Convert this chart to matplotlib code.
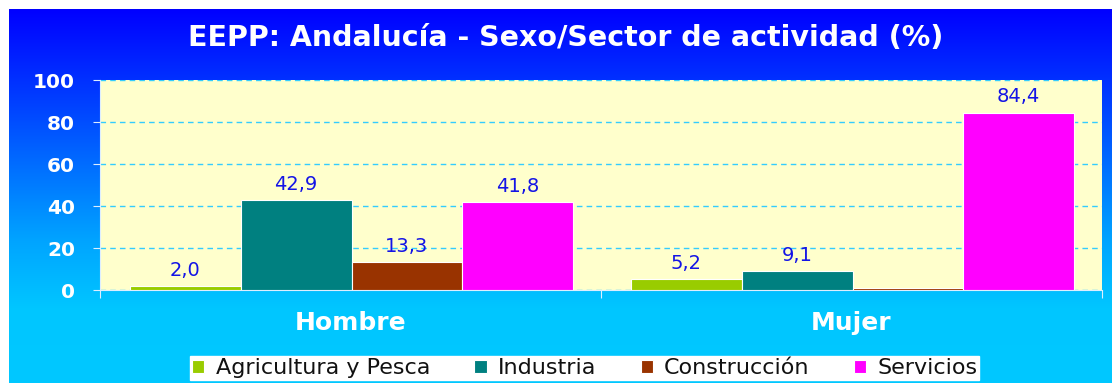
import numpy as np
import matplotlib.pyplot as plt
from matplotlib.colors import LinearSegmentedColormap

# datos de la encuesta (%)
grupos = ['Hombre', 'Mujer']
sectores = ['Agricultura y Pesca', 'Industria', 'Construcción', 'Servicios']
agricultura = [2.0, 5.2]
industria = [42.9, 9.1]
construccion = [13.3, 1.0]
servicios = [41.8, 84.4]
etiquetas = [['2,0', '5,2'], ['42,9', '9,1'], ['13,3', ''], ['41,8', '84,4']]
colores = ['#99CC00', '#008080', '#993300', '#FF00FF']

plt.rcParams['font.family'] = ['DejaVu Sans']

fig = plt.figure(figsize=(11.12, 3.83), dpi=100, facecolor='white')

# fondo degradado azul -> celeste
fondo = fig.add_axes([9 / 1112, 0, 1 - 9 / 1112, 1 - 9 / 383], zorder=-10)
cmap = LinearSegmentedColormap.from_list('fondo', [(0.0, '#0000FF'), (0.25, '#0040FF'),
                                                  (0.62, '#00A4FF'), (0.80, '#00C6FF'),
                                                  (1.0, '#00C8FF')])
grad = np.linspace(0, 1, 256).reshape(-1, 1)
fondo.imshow(grad, aspect='auto', cmap=cmap, extent=[0, 1, 1, 0])
fondo.set_axis_off()

ax = fig.add_axes([100 / 1112, 1 - 290 / 383, 1002 / 1112, 210 / 383])
ax.set_facecolor('#FFFFCC')

x = np.arange(len(grupos))
ancho = 0.221
series = [agricultura, industria, construccion, servicios]
for i, (vals, col, nombre) in enumerate(zip(series, colores, sectores)):
    pos = x + (i - 1.5) * ancho + 0.002
    ax.bar(pos, vals, ancho, color=col, edgecolor='white', linewidth=0.8,
           label=nombre, zorder=3)
    for p, v, t in zip(pos, vals, etiquetas[i]):
        if t:
            ax.text(p, v + 3, t, ha='center', va='bottom', color='#1414E6',
                    fontsize=14, zorder=4)

ax.set_xlim(-0.5, 1.5)
ax.set_ylim(0, 100)
ax.set_yticks(np.arange(0, 101, 20))
ax.set_xticks([-0.5, 0.5, 1.5], minor=False)
ax.set_xticklabels([])
ax.set_xticks(x, minor=True)
ax.set_xticklabels(grupos, minor=True)
ax.tick_params(axis='x', which='minor', length=0, pad=15, labelsize=18,
               labelcolor='white')
ax.tick_params(axis='x', which='major', length=6, color='#DDEEFF')
ax.tick_params(axis='y', length=5, color='#DDEEFF', labelcolor='white', labelsize=14.5, pad=13)
for lab in ax.get_yticklabels() + ax.get_xticklabels(minor=True):
    lab.set_fontweight('bold')

ax.grid(axis='y', color='#33CCFF', linestyle=(0, (4, 3)), linewidth=1, zorder=1)
for s in ['top', 'right']:
    ax.spines[s].set_visible(False)
for s in ['left', 'bottom']:
    ax.spines[s].set_color('#DDEEFF')

fig.text(566 / 1112, 1 - 38 / 383, 'EEPP: Andalucía - Sexo/Sector de actividad (%)',
         ha='center', va='center', color='white', fontsize=20.5, fontweight='bold')

leg = fig.legend(loc='upper left', bbox_to_anchor=(190 / 1112, 1 - 356 / 383), ncol=4,
                 fontsize=16, frameon=True, fancybox=False, edgecolor='white',
                 facecolor='white', framealpha=1, handlelength=0.55, handleheight=0.55,
                 handletextpad=0.5, columnspacing=2.0, borderpad=0.1, borderaxespad=0)
for t in leg.get_texts():
    t.set_color('#111111')

fig.savefig('out.png', dpi=100, facecolor='white')
